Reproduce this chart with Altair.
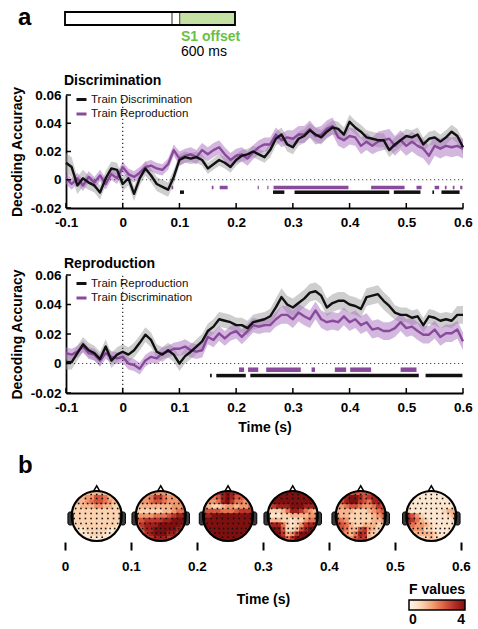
import math
import altair as alt
import pandas as pd

# ---------------- data ----------------
TIMES = [round(-0.1 + 0.01 * i, 2) for i in range(71)]

# Panel "Discrimination"
D_BLACK = [  # Train Discrimination
    0.012, 0.009, -0.004, 0.001, -0.002, -0.004, -0.009, 0.001, 0.008, 0.007,
    -0.003, 0.001, -0.010, 0.001, 0.008, 0.003, -0.003, -0.005, -0.007, 0.002,
    0.014, 0.016, 0.015, 0.016, 0.014, 0.008, 0.011, 0.014, 0.012, 0.009,
    0.014, 0.017, 0.018, 0.020, 0.018, 0.016, 0.021, 0.029, 0.032, 0.025,
    0.023, 0.029, 0.031, 0.035, 0.032, 0.030, 0.034, 0.037, 0.036, 0.032,
    0.041, 0.037, 0.034, 0.030, 0.029, 0.028, 0.028, 0.021, 0.025, 0.028,
    0.031, 0.030, 0.032, 0.025, 0.029, 0.030, 0.027, 0.030, 0.034, 0.031,
    0.023]
D_PURPLE = [  # Train Reproduction
    0.001, -0.003, 0.001, -0.004, 0.002, -0.002, 0.003, -0.003, 0.004, 0.001,
    0.009, 0.004, 0.002, 0.005, 0.009, 0.010, 0.008, 0.007, 0.011, 0.021,
    0.015, 0.017, 0.018, 0.016, 0.021, 0.018, 0.021, 0.023, 0.018, 0.014,
    0.017, 0.018, 0.015, 0.0195, 0.023, 0.025, 0.025, 0.032, 0.028, 0.030,
    0.029, 0.032, 0.032, 0.036, 0.031, 0.032, 0.036, 0.038, 0.030, 0.028,
    0.031, 0.030, 0.024, 0.027, 0.024, 0.027, 0.028, 0.029, 0.024, 0.028,
    0.024, 0.027, 0.024, 0.022, 0.017, 0.024, 0.022, 0.024, 0.023, 0.024,
    0.022]
D_BLACK_SEM = [
    0.007, 0.007, 0.006, 0.006, 0.005, 0.005, 0.005, 0.005, 0.005, 0.005,
    0.005, 0.005, 0.005, 0.005, 0.005, 0.005, 0.005, 0.005, 0.005, 0.005,
    0.004, 0.004, 0.004, 0.004, 0.004, 0.004, 0.004, 0.004, 0.004, 0.004,
    0.004, 0.004, 0.004, 0.004, 0.004, 0.004, 0.005, 0.005, 0.005, 0.005,
    0.005, 0.005, 0.005, 0.005, 0.005, 0.005, 0.005, 0.005, 0.005, 0.005,
    0.005, 0.005, 0.005, 0.005, 0.005, 0.005, 0.005, 0.005, 0.005, 0.005,
    0.005, 0.005, 0.005, 0.005, 0.005, 0.005, 0.005, 0.005, 0.005, 0.005,
    0.005]
D_PURPLE_SEM = [
    0.004, 0.004, 0.004, 0.004, 0.004, 0.004, 0.004, 0.004, 0.004, 0.004,
    0.004, 0.004, 0.004, 0.004, 0.004, 0.004, 0.004, 0.004, 0.004, 0.004,
    0.005, 0.005, 0.005, 0.005, 0.005, 0.005, 0.005, 0.005, 0.005, 0.005,
    0.005, 0.005, 0.005, 0.005, 0.005, 0.005, 0.005, 0.005, 0.005, 0.005,
    0.006, 0.006, 0.006, 0.006, 0.006, 0.006, 0.006, 0.006, 0.006, 0.006,
    0.006, 0.006, 0.006, 0.006, 0.006, 0.007, 0.007, 0.007, 0.007, 0.007,
    0.007, 0.007, 0.007, 0.007, 0.007, 0.007, 0.007, 0.007, 0.007, 0.007,
    0.007]

# Panel "Reproduction"
R_BLACK = [  # Train Reproduction
    0.001, 0.001, 0.007, 0.013, 0.009, 0.007, 0.003, 0.0115, 0.002, 0.006,
    0.008, 0.006, 0.009, 0.014, 0.0195, 0.016, 0.008, 0.006, 0.009, 0.006,
    0.000, 0.005, 0.008, 0.0115, 0.015, 0.022, 0.025, 0.030, 0.029, 0.028,
    0.026, 0.026, 0.024, 0.028, 0.029, 0.030, 0.032, 0.038, 0.045, 0.040,
    0.038, 0.041, 0.044, 0.048, 0.049, 0.046, 0.038, 0.041, 0.0425, 0.0425,
    0.040, 0.039, 0.037, 0.045, 0.046, 0.047, 0.0425, 0.039, 0.0345, 0.033,
    0.033, 0.031, 0.032, 0.026, 0.032, 0.031, 0.029, 0.030, 0.029, 0.033,
    0.033]
R_PURPLE = [  # Train Discrimination
    0.007, 0.006, 0.008, 0.0115, 0.007, 0.006, 0.002, 0.007, 0.0045, 0.0035,
    0.0045, 0.000, -0.001, -0.0035, 0.002, 0.0045, 0.0035, 0.007, 0.008, 0.010,
    0.010, 0.0115, 0.009, 0.008, 0.009, 0.018, 0.016, 0.0205, 0.017, 0.0205,
    0.022, 0.018, 0.022, 0.026, 0.025, 0.026, 0.026, 0.030, 0.033, 0.033,
    0.030, 0.0345, 0.032, 0.030, 0.036, 0.030, 0.028, 0.029, 0.028, 0.032,
    0.028, 0.030, 0.026, 0.028, 0.023, 0.024, 0.022, 0.022, 0.024, 0.028,
    0.024, 0.025, 0.022, 0.0195, 0.0195, 0.023, 0.018, 0.0205, 0.0205, 0.023,
    0.015]
R_BLACK_SEM = [
    0.005, 0.005, 0.005, 0.005, 0.005, 0.005, 0.005, 0.005, 0.005, 0.005,
    0.005, 0.005, 0.005, 0.005, 0.005, 0.005, 0.005, 0.005, 0.005, 0.005,
    0.005, 0.005, 0.005, 0.005, 0.005, 0.005, 0.005, 0.005, 0.005, 0.005,
    0.005, 0.005, 0.005, 0.005, 0.005, 0.005, 0.005, 0.006, 0.006, 0.006,
    0.006, 0.006, 0.006, 0.006, 0.006, 0.006, 0.006, 0.006, 0.006, 0.006,
    0.006, 0.006, 0.006, 0.006, 0.006, 0.006, 0.006, 0.006, 0.005, 0.005,
    0.005, 0.005, 0.005, 0.005, 0.005, 0.005, 0.005, 0.005, 0.005, 0.006,
    0.006]
R_PURPLE_SEM = [
    0.004, 0.004, 0.004, 0.004, 0.004, 0.004, 0.004, 0.004, 0.004, 0.004,
    0.004, 0.004, 0.004, 0.004, 0.004, 0.004, 0.004, 0.004, 0.004, 0.004,
    0.005, 0.005, 0.005, 0.005, 0.005, 0.005, 0.005, 0.005, 0.005, 0.005,
    0.005, 0.005, 0.005, 0.005, 0.005, 0.005, 0.005, 0.005, 0.006, 0.006,
    0.006, 0.006, 0.006, 0.006, 0.006, 0.006, 0.006, 0.006, 0.006, 0.006,
    0.006, 0.006, 0.006, 0.006, 0.006, 0.006, 0.006, 0.006, 0.006, 0.006,
    0.006, 0.006, 0.006, 0.006, 0.006, 0.006, 0.006, 0.006, 0.006, 0.006,
    0.006]

# significant clusters (start, end) in seconds
D_SIG_PURPLE = [(0.086, 0.089), (0.157, 0.160), (0.171, 0.185), (0.238, 0.240),
                (0.255, 0.257), (0.266, 0.398), (0.438, 0.497), (0.518, 0.527),
                (0.550, 0.558), (0.568, 0.571), (0.582, 0.585), (0.595, 0.599)]
D_SIG_BLACK = [(0.101, 0.108), (0.265, 0.285), (0.303, 0.470), (0.478, 0.525),
               (0.546, 0.549), (0.562, 0.594)]
R_SIG_PURPLE = [(0.205, 0.214), (0.221, 0.239), (0.253, 0.314), (0.333, 0.339),
                (0.374, 0.394), (0.401, 0.438), (0.490, 0.518)]
R_SIG_BLACK = [(0.154, 0.157), (0.165, 0.217), (0.225, 0.522), (0.534, 0.599)]
D_SIG_ROWS = {"purple": -0.0055, "black": -0.0088}
R_SIG_ROWS = {"purple": -0.0042, "black": -0.0082}

X_TICKS = [-0.1, 0.0, 0.1, 0.2, 0.3, 0.4, 0.5, 0.6]
Y_TICKS = [-0.02, 0.0, 0.02, 0.04, 0.06]
TOPO_TICKS = [0.0, 0.1, 0.2, 0.3, 0.4, 0.5, 0.6]

# timeline bar (fractions of the bar)
TIMELINE_EDGES = [0.0, 0.63, 0.675, 1.0]
TIMELINE_FILLS = ["#ffffff", "#ffffff", "#c4e0a2"]

# topographies: F value digits (0-9 -> 0-4), 11x11, front at top
HEAD_CENTERS = [0.048, 0.145, 0.247, 0.345, 0.448, 0.555]
HEAD_GRIDS = [
    ["22333333322", "23344665332", "23345665432", "22333443322", "22222222222",
     "22222222222", "22222222222", "12222222221", "11122222111", "11112221111",
     "11111111111"],
    ["33444443333", "34457754433", "34456654443", "23333333444", "22222233455",
     "44445556788", "66777788999", "57888999998", "56889999987", "55789998876",
     "55678887765"],
    ["66678987666", "55568986655", "44458975544", "33223443445", "66665556777",
     "88999999999", "99999999999", "99999999999", "99999999999", "99999999999",
     "99999999999"],
    ["99999999999", "99999999999", "89999999999", "67888999888", "22235887543",
     "11122333344", "33322122455", "78852124788", "89962236899", "89973479998",
     "88885799988"],
    ["55666666655", "56899867885", "56899765885", "44566544576", "33332223456",
     "43322222345", "65422222334", "76532233322", "76533674322", "65435873222",
     "55446773222"],
    ["11111111111", "11111111111", "11111111111", "11111111111", "21111111233",
     "76421111123", "87532111112", "65443211111", "44442211111", "22333321111",
     "22222321111"],
]
# electrode montage rows: (vertical position, count, half width) in head radii
ELECTRODE_ROWS = [(0.86, 3, 0.22), (0.70, 5, 0.45), (0.50, 9, 0.72), (0.30, 9, 0.84),
                  (0.10, 9, 0.90), (-0.10, 9, 0.90), (-0.30, 9, 0.84), (-0.50, 9, 0.72),
                  (-0.68, 7, 0.52), (-0.85, 3, 0.22)]

F_DOMAIN = [0, 0.8, 1.6, 2.4, 3.2, 4]
F_COLORS = ["#fff7f0", "#fcd9b8", "#f4a57a", "#e06646", "#b8302a", "#7e1010"]

BLACK = "#111111"
PURPLE = "#8a4a9c"
GREY_BAND = "#9d9d9d"
PURPLE_BAND = "#a86fc0"
FONT = "Liberation Sans"

# ---------------- layout helpers ----------------
W, H = 478, 629
PX0, PX1 = 66, 463
PANEL_Y = {1: (208, 95), 2: (393, 275)}
HX0, HX1 = 65, 461
HY0, HY1 = 541, 491
TL_X = (65, 235)
TL_Y = (25, 12)


def xscale():
    return alt.Scale(domain=[-0.1, 0.6], range=[PX0, PX1], nice=False, zero=False)


def yscale(p):
    return alt.Scale(domain=[-0.02, 0.06], range=list(PANEL_Y[p]), nice=False, zero=False)


def hx():
    return alt.Scale(domain=[0, 0.6], range=[HX0, HX1], nice=False, zero=False)


def hy():
    return alt.Scale(domain=[-1, 1], range=[HY0, HY1], nice=False, zero=False)


XLAB = "datum.value == 0 ? '0' : (datum.value < 0 ? '-' : '') + format(abs(datum.value), '.1f')"
YLAB = "datum.value == 0 ? '0' : (datum.value < 0 ? '-' : '') + format(abs(datum.value), '.2f')"


def panel(p, black, purple, bsem, psem, names, sig_p, sig_b, sig_rows, legend_y, purple_w):
    df = pd.DataFrame({"t": TIMES, "b": black, "p": purple, "bs": bsem, "ps": psem})
    df["blo"] = df.b - df.bs
    df["bhi"] = df.b + df.bs
    df["plo"] = df.p - df.ps
    df["phi"] = df.p + df.ps
    xa = alt.Axis(orient="bottom", offset=PANEL_Y[p][0] - H, values=X_TICKS, labelExpr=XLAB,
                  ticks=False, tickSize=0, labelPadding=7, labelFlush=False, grid=False,
                  title="Time (s)" if p == 2 else None, titlePadding=7)
    ya = alt.Axis(orient="left", offset=-PX0, values=Y_TICKS, labelExpr=YLAB, ticks=False,
                  tickSize=0, labelPadding=5, grid=False, title="Decoding Accuracy",
                  titlePadding=6)
    layers = []
    layers.append(alt.Chart(df).mark_area(color=GREY_BAND, opacity=0.5).encode(
        x=alt.X("t:Q", scale=xscale(), axis=xa),
        y=alt.Y("blo:Q", scale=yscale(p), axis=ya), y2="bhi:Q"))
    layers.append(alt.Chart(df).mark_area(color=PURPLE_BAND, opacity=0.5).encode(
        x=alt.X("t:Q", scale=xscale(), axis=None),
        y=alt.Y("plo:Q", scale=yscale(p), axis=None), y2="phi:Q"))
    zdf = pd.DataFrame({"x0": [-0.1], "x1": [0.6], "y": [0.0], "t0": [0.0],
                        "ylo": [-0.02], "yhi": [0.06]})
    layers.append(alt.Chart(zdf).mark_rule(color="#444444", strokeWidth=1.2,
                                           strokeDash=[1.2, 2.8]).encode(
        x=alt.X("x0:Q", scale=xscale(), axis=None), x2="x1:Q",
        y=alt.Y("y:Q", scale=yscale(p), axis=None)))
    layers.append(alt.Chart(zdf).mark_rule(color="#222222", strokeWidth=1.2,
                                           strokeDash=[1.2, 2.8]).encode(
        x=alt.X("t0:Q", scale=xscale(), axis=None),
        y=alt.Y("ylo:Q", scale=yscale(p), axis=None), y2="yhi:Q"))
    long = pd.concat([
        pd.DataFrame({"t": TIMES, "v": purple, "s": names[1], "o": 0}),
        pd.DataFrame({"t": TIMES, "v": black, "s": names[0], "o": 1}),
    ])
    layers.append(alt.Chart(long).mark_line(strokeWidth=2.4, strokeJoin="round").encode(
        x=alt.X("t:Q", scale=xscale(), axis=None),
        y=alt.Y("v:Q", scale=yscale(p), axis=None),
        color=alt.Color("s:N", scale=alt.Scale(domain=names, range=[BLACK, PURPLE]),
                        legend=alt.Legend(title=None, orient="none", legendX=75,
                                          legendY=legend_y, symbolType="stroke",
                                          symbolSize=100, symbolStrokeWidth=3,
                                          labelFontSize=11.5, labelFont=FONT,
                                          labelFontWeight="normal", labelColor="#111111",
                                          rowPadding=1.5, padding=0, labelOffset=3)),
        detail="s:N"))
    for sig, key, col, w in ((sig_p, "purple", PURPLE, purple_w), (sig_b, "black", BLACK, 3.5)):
        sdf = pd.DataFrame({"a": [s[0] for s in sig], "b": [s[1] for s in sig],
                            "y": [sig_rows[key]] * len(sig)})
        layers.append(alt.Chart(sdf).mark_rule(color=col, strokeWidth=w, strokeCap="butt").encode(
            x=alt.X("a:Q", scale=xscale(), axis=None), x2="b:Q",
            y=alt.Y("y:Q", scale=yscale(p), axis=None)))
    ydf = pd.DataFrame({"v": Y_TICKS, "x0": [-0.1] * len(Y_TICKS)})
    layers.append(alt.Chart(ydf).mark_tick(orient="horizontal", size=5, thickness=1.5,
                                           color="black", opacity=1, xOffset=2.5).encode(
        x=alt.X("x0:Q", scale=xscale(), axis=None),
        y=alt.Y("v:Q", scale=yscale(p), axis=None)))
    xdf = pd.DataFrame({"t": X_TICKS, "y0": [-0.02] * len(X_TICKS)})
    layers.append(alt.Chart(xdf).mark_tick(orient="vertical", size=5, thickness=1.5,
                                           color="black", opacity=1, yOffset=-2.5).encode(
        x=alt.X("t:Q", scale=xscale(), axis=None),
        y=alt.Y("y0:Q", scale=yscale(p), axis=None)))
    return layers


def text(label, x, y, size=14, weight="bold", color="black"):
    return alt.Chart(pd.DataFrame({"k": [0]})).mark_text(
        text=label, fontSize=size, fontWeight=weight, color=color, align="left",
        baseline="alphabetic", font=FONT).encode(x=alt.value(x), y=alt.value(y))


layers = []

# timeline bar
tl = pd.DataFrame({"a": TIMELINE_EDGES[:-1], "b": TIMELINE_EDGES[1:], "f": TIMELINE_FILLS,
                   "y0": [0, 0, 0], "y1": [1, 1, 1]})
tlx = alt.Scale(domain=[0, 1], range=list(TL_X), nice=False, zero=False)
tly = alt.Scale(domain=[0, 1], range=list(TL_Y), nice=False, zero=False)
layers.append(alt.Chart(tl).mark_rect(stroke="#555555", strokeWidth=1).encode(
    x=alt.X("a:Q", scale=tlx, axis=None), x2="b:Q",
    y=alt.Y("y0:Q", scale=tly, axis=None), y2="y1:Q",
    fill=alt.Fill("f:N", scale=None, legend=None)))
tlo = pd.DataFrame({"a": [TIMELINE_EDGES[0]], "b": [TIMELINE_EDGES[-1]], "y0": [0], "y1": [1]})
layers.append(alt.Chart(tlo).mark_rect(stroke="black", strokeWidth=1.8, fillOpacity=0).encode(
    x=alt.X("a:Q", scale=tlx, axis=None), x2="b:Q",
    y=alt.Y("y0:Q", scale=tly, axis=None), y2="y1:Q"))

layers += [
    text("a", 18, 25, size=24),
    text("S1 offset", 181, 41, color="#6abf45"),
    text("600 ms", 181, 56, weight="normal"),
    text("Discrimination", 64, 85),
    text("Reproduction", 64, 268),
    text("b", 18, 473, size=24),
]

layers += panel(1, D_BLACK, D_PURPLE, D_BLACK_SEM, D_PURPLE_SEM,
                ["Train Discrimination", "Train Reproduction"],
                D_SIG_PURPLE, D_SIG_BLACK, D_SIG_ROWS, 93, 3.5)
layers += panel(2, R_BLACK, R_PURPLE, R_BLACK_SEM, R_PURPLE_SEM,
                ["Train Reproduction", "Train Discrimination"],
                R_SIG_PURPLE, R_SIG_BLACK, R_SIG_ROWS, 277, 4.5)

# ---------------- topographies ----------------
R_PX = 25
RT = R_PX / ((HX1 - HX0) / 0.6)  # head radius in time units
NG = 11
half = 1.0 / NG
cells = []
for h, grid in enumerate(HEAD_GRIDS):
    c0 = HEAD_CENTERS[h]
    for r, line in enumerate(grid):
        for c, ch in enumerate(line):
            u = -1 + (2 * c + 1) / NG
            v = 1 - (2 * r + 1) / NG
            if math.hypot(u, v) > 1 + 1.45 / NG:
                continue
            cells.append({"x": c0 + (u - half - 0.02) * RT, "x2": c0 + (u + half + 0.02) * RT,
                          "y": v - half - 0.02, "y2": v + half + 0.02,
                          "F": int(ch) * 4 / 9})
cells = pd.DataFrame(cells)

heads = pd.DataFrame({"c": HEAD_CENTERS, "y": [0.0] * 6, "ny": [1.1] * 6})
ears = []
for c0 in HEAD_CENTERS:
    for side in (-1, 1):
        a, b = c0 + side * 0.94 * RT, c0 + side * 1.15 * RT
        ears.append({"a": min(a, b), "b": max(a, b), "y0": -0.36, "y1": 0.16})
ears = pd.DataFrame(ears)
elec = []
for c0 in HEAD_CENTERS:
    for (yy, n, hw) in ELECTRODE_ROWS:
        for k in range(n):
            uu = -hw + (2 * hw * k / (n - 1) if n > 1 else hw)
            elec.append({"x": c0 + uu * RT, "y": yy})
elec = pd.DataFrame(elec)

topo_axis = alt.Axis(orient="bottom", offset=(HY0 + 1) - H, values=TOPO_TICKS, labelExpr=XLAB,
                     domain=False, ticks=True, tickSize=8, tickWidth=2, tickColor="black",
                     labelPadding=9, labelFlush=False, grid=False, title="Time (s)",
                     titlePadding=20)
layers.append(alt.Chart(cells).mark_rect().encode(
    x=alt.X("x:Q", scale=hx(), axis=topo_axis), x2="x2:Q",
    y=alt.Y("y:Q", scale=hy(), axis=None), y2="y2:Q",
    color=alt.Color("F:Q", scale=alt.Scale(domain=F_DOMAIN, range=F_COLORS, interpolate="rgb",
                                           clamp=True),
                    legend=alt.Legend(title="F values", orient="none", legendX=409, legendY=583,
                                      direction="horizontal", gradientLength=56,
                                      gradientThickness=10, values=[0, 4],
                                      titleFontSize=14, titleFontWeight="bold", titleFont=FONT,
                                      labelFontSize=14, labelFontWeight="bold", labelFont=FONT,
                                      gradientStrokeColor="black", gradientStrokeWidth=1.5,
                                      titlePadding=3, labelOffset=3, padding=0,
                                      titleColor="black", labelColor="black"))))
layers.append(alt.Chart(heads).mark_point(shape="circle", size=(2 * 28.5) ** 2, filled=False,
                                          stroke="white", strokeWidth=6, opacity=1).encode(
    x=alt.X("c:Q", scale=hx(), axis=None), y=alt.Y("y:Q", scale=hy(), axis=None)))
layers.append(alt.Chart(ears).mark_rect(fill="#3a3a3a", stroke="black", strokeWidth=1,
                                        cornerRadius=2).encode(
    x=alt.X("a:Q", scale=hx(), axis=None), x2="b:Q",
    y=alt.Y("y0:Q", scale=hy(), axis=None), y2="y1:Q"))
layers.append(alt.Chart(heads).mark_point(shape="triangle-up", size=40, filled=True,
                                          fill="white", stroke="black", strokeWidth=1.5,
                                          opacity=1).encode(
    x=alt.X("c:Q", scale=hx(), axis=None), y=alt.Y("ny:Q", scale=hy(), axis=None)))
layers.append(alt.Chart(heads).mark_point(shape="circle", size=(2 * R_PX) ** 2, filled=False,
                                          stroke="black", strokeWidth=2.2, opacity=1).encode(
    x=alt.X("c:Q", scale=hx(), axis=None), y=alt.Y("y:Q", scale=hy(), axis=None)))
layers.append(alt.Chart(elec).mark_square(size=2.5, color="#111111", opacity=1).encode(
    x=alt.X("x:Q", scale=hx(), axis=None), y=alt.Y("y:Q", scale=hy(), axis=None)))

chart = alt.layer(*layers).resolve_scale(
    x="independent", y="independent", color="independent", fill="independent"
).resolve_axis(x="independent", y="independent").resolve_legend(
    color="independent"
).properties(
    width=W, height=H, autosize=alt.AutoSizeParams(type="none"), padding=0
).configure(font=FONT, background="white").configure_view(stroke=None).configure_axis(
    domainColor="black", domainWidth=1.8, labelColor="black", titleColor="black",
    labelFontSize=13.5, labelFontWeight="bold", titleFontSize=14, titleFontWeight="bold",
    labelFont=FONT, titleFont=FONT, grid=False
)

chart.save("out.html", embed_options={"renderer": "svg", "actions": False})
